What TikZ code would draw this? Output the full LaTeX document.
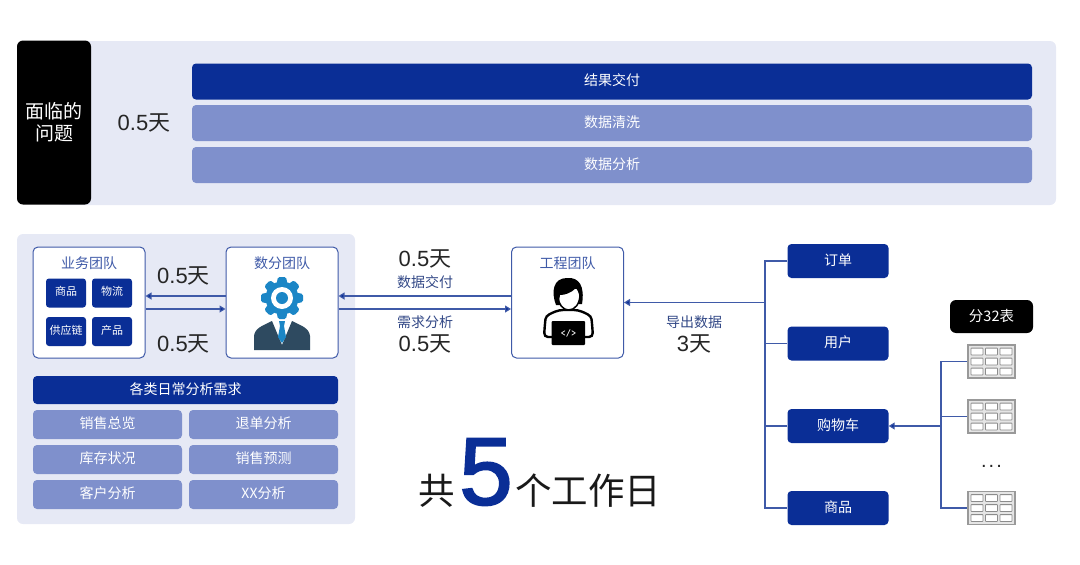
\documentclass[tikz,border=0pt]{standalone}
\usepackage{fontspec}
\setmainfont{Liberation Sans}
\newfontfamily\cjk{Noto Sans CJK SC}
\newfontfamily\fivefont[FakeBold=2]{Liberation Sans}
\usetikzlibrary{calc, arrows.meta}
\definecolor{deepblue}{HTML}{0A2E96}
\definecolor{softblue}{HTML}{7F90CC}
\definecolor{panelblue}{HTML}{E6E9F5}
\definecolor{lineblue}{HTML}{3F5AA8}
\definecolor{gearblue}{HTML}{1B86C6}
\definecolor{suitgray}{HTML}{2E4A60}
\tikzset{
    panel/.style={fill=panelblue, rounded corners=6pt, inner sep=0pt},
    bluebox/.style={fill=deepblue, text=white, rounded corners=4pt, inner sep=0pt, text depth=3.5pt, font=\cjk\fontsize{14}{16}\selectfont},
    softbox/.style={fill=softblue, text=white, rounded corners=4pt, inner sep=0pt, text depth=3.5pt, font=\cjk\fontsize{14}{16}\selectfont},
    blackbox/.style={fill=black, text=white, rounded corners=6pt, inner sep=0pt, align=center},
    teambox/.style={draw=lineblue, fill=white, line width=1pt, rounded corners=5pt, inner sep=0pt, minimum width=112pt, minimum height=111pt},
    teamname/.style={text=lineblue, inner sep=0pt, font=\cjk\fontsize{14}{16}\selectfont},
    subbox/.style={bluebox, rounded corners=3pt, minimum width=40pt, minimum height=29pt, font=\cjk\fontsize{11}{13}\selectfont},
    tagbox/.style={bluebox, minimum width=101pt, minimum height=34pt},
    barbox/.style={minimum width=840pt, minimum height=36pt},
    halfbox/.style={softbox, minimum width=149pt, minimum height=29pt},
    daytext/.style={inner sep=0pt, text=black!85, font=\fontsize{22}{24}\selectfont},
    smalltext/.style={inner sep=0pt, text=lineblue!80!black, font=\cjk\fontsize{14}{16}\selectfont},
    link/.style={draw=lineblue, line width=1.1pt},
    linkarrow/.style={link, -{Triangle[length=6pt,width=7pt,fill=deepblue]}},
    gridline/.style={draw=black!45, line width=0.8pt, fill=white},
}
\begin{document}
\begin{tikzpicture}[x=1pt,y=-1pt]
    \useasboundingbox (0,0) rectangle (1080,565);
    % top part
    \node[panel, minimum width=1000pt, minimum height=164pt] (toppanel) at (556,123) {};
    \node[blackbox, minimum width=74pt, minimum height=164pt, font=\cjk\fontsize{19}{22}\selectfont] (problem) at (54,122.5) {面临的\\问题};
    \node[daytext] (topday) at (144,122.5) {0.5{\cjk 天}};
    \node[bluebox, barbox] (result) at (612,81.5) {结果交付};
    \node[softbox, barbox] (clean) at (612,123) {数据清洗};
    \node[softbox, barbox] (analysis) at (612,165) {数据分析};
    % left part
    \node[panel, minimum width=338pt, minimum height=290pt] (leftpanel) at (186,379) {};
    \node[teambox] (business) at (89,302.5) {};
    \node[teamname] (businessname) at (89,263) {业务团队};
    \node[teambox] (dataops) at (282,302.5) {};
    \node[teamname] (dataopsname) at (282,263) {数分团队};
    \node[subbox] (goods) at (66,293) {商品};
    \node[subbox] (logistics) at (112,293) {物流};
    \node[subbox] (supply) at (66,331.5) {供应链};
    \node[subbox] (product) at (112,331.5) {产品};
    \node[bluebox, minimum width=305pt, minimum height=28pt] (needs) at (185.5,390) {各类日常分析需求};
    \node[halfbox] (sales) at (107.5,424.5) {销售总览};
    \node[halfbox] (refund) at (263.5,424.5) {退单分析};
    \node[halfbox] (stock) at (107.5,459.5) {库存状况};
    \node[halfbox] (forecast) at (263.5,459.5) {销售预测};
    \node[halfbox] (customer) at (107.5,494.5) {客户分析};
    \node[halfbox] (others) at (263.5,494.5) {XX{\cjk 分析}};
    % gear and suit
    \foreach \a in {0,45,...,315}{
        \fill[gearblue, rounded corners=1.5pt, rotate around={\a:(282,298)}] (276.5,284) -- (278,277) -- (286,277) -- (287.5,284) -- cycle;
    }
    \fill[gearblue] (282,298) circle (16.5);
    \fill[white] (282,298) circle (11);
    \fill[gearblue] (282,298) circle (6);
    \fill[suitgray] (254,350) -- (254,336) .. controls (255,328) and (262,326) .. (272,321)
        -- (282,345) -- (292,321) .. controls (302,326) and (309,328) .. (310,336) -- (310,350) -- cycle;
    \fill[gearblue] (279,321) -- (285,321) -- (284,326) -- (286,337) -- (282,343) -- (278,337) -- (280,326) -- cycle;
    % engineering team
    \node[teambox] (engineer) at (567.5,302.5) {};
    \node[teamname] (engineername) at (567.5,263) {工程团队};
    \draw[black, line width=2.4pt, fill=white, rounded corners=4pt] (544,337) -- (545,323) .. controls (546,315) and (552,313) .. (559,310)
        -- (578,310) .. controls (585,313) and (591,315) .. (592,323) -- (593,337) -- cycle;
    \fill[black, rounded corners=1pt] (551.5,321) rectangle (585,345);
    \node[inner sep=0pt, text=white, font=\ttfamily\bfseries\fontsize{10}{11}\selectfont] (codemark) at (568.5,333) {</>};
    \draw[black, line width=1.5pt, fill=white] (558,296) .. controls (558,304) and (563,310) .. (568.5,310) .. controls (575,310) and (580,304) .. (580,294) -- (580,288) -- (558,288) -- cycle;
    \fill[black] (556,305) .. controls (551,292) and (553,278) .. (567,278) .. controls (579,277) and (585,286) .. (582,304)
        -- (579,304) .. controls (580,296) and (579,292) .. (576,288) .. controls (571,293) and (565,295) .. (560,295) .. controls (559,298) and (559,301) .. (560,305) -- cycle;
    % links between teams
    \draw[linkarrow] ([yshift=6.5pt]dataops.west) -- ([yshift=6.5pt]business.east);
    \draw[linkarrow] ([yshift=-6.5pt]business.east) -- ([yshift=-6.5pt]dataops.west);
    \draw[linkarrow] ([yshift=6.5pt]engineer.west) -- ([yshift=6.5pt]dataops.east);
    \draw[linkarrow] ([yshift=-6.5pt]dataops.east) -- ([yshift=-6.5pt]engineer.west);
    \node[daytext] (dayup) at (183.5,276) {0.5{\cjk 天}};
    \node[daytext] (daydown) at (183.5,344) {0.5{\cjk 天}};
    \node[daytext] (deliverday) at (425,259) {0.5{\cjk 天}};
    \node[smalltext] (deliver) at (425,282) {数据交付};
    \node[smalltext] (demand) at (425,322) {需求分析};
    \node[daytext] (demandday) at (425,344) {0.5{\cjk 天}};
    \node[smalltext] (export) at (694,322) {导出数据};
    \node[daytext] (exportday) at (694,344) {3{\cjk 天}};
    % business tables
    \node[tagbox] (order) at (838,261) {订单};
    \node[tagbox] (user) at (838,343.5) {用户};
    \node[tagbox] (cart) at (838,426) {购物车};
    \node[tagbox] (item) at (838,508) {商品};
    \coordinate (trunktop) at (765,261);
    \coordinate (trunkbottom) at (765,508);
    \coordinate (trunkmid) at (765,302.5);
    \draw[link] (order.west) -- (trunktop) -- (trunkbottom) -- (item.west);
    \draw[link] (user.west) -- (user.west -| trunktop);
    \draw[link] (cart.west) -- (cart.west -| trunktop);
    \draw[linkarrow] (trunkmid) -- (engineer.east);
    % split tables
    \node[blackbox, minimum width=83pt, minimum height=33pt, font=\cjk\fontsize{14.5}{16}\selectfont] (split) at (991.5,316.5) {分32表};
    \foreach \name/\y in {tableone/361.5,tabletwo/416.5,tablelast/508}{
        \node[draw=black!40, fill=black!10, line width=1.2pt, minimum width=47pt, minimum height=33pt, inner sep=0pt] (\name) at (991.5,\y) {};
        \foreach \i in {-1,0,1}{
            \foreach \j in {-1,0,1}{
                \draw[gridline, rounded corners=0.5pt] (991.5+14.5*\i-6,\y+10*\j-3.4) rectangle (991.5+14.5*\i+6,\y+10*\j+3.4);
            }
        }
    }
    \node[inner sep=0pt, text=black!85, font=\fontsize{20}{22}\selectfont] (moretables) at (991.5,466) {.\kern2pt.\kern2pt.};
    \coordinate (stemtop) at (941,361.5);
    \coordinate (stembottom) at (941,508);
    \draw[link] (tableone.west) -- (stemtop) -- (stembottom) -- (tablelast.west);
    \draw[link] (tabletwo.west) -- (tabletwo.west -| stemtop);
    \coordinate (stemmid) at (941,426);
    \draw[linkarrow] (stemmid) -- (cart.east);
    % total
    \node[inner sep=0pt, text=black!90, font=\cjk\fontsize{36.5}{38}\selectfont] (gong) at (437,491) {共};
    \node[inner sep=0pt, text=deepblue, font=\fivefont\fontsize{96}{96}\selectfont] (five) at (486,472) {5};
    \node[inner sep=0pt, text=black!90, font=\cjk\fontsize{36.5}{38}\selectfont] (workdays) at (588,491) {个工作日};
\end{tikzpicture}
\end{document}
